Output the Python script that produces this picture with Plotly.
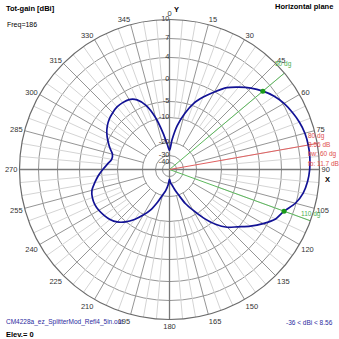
import numpy as np
import plotly.graph_objects as go

# ---------------- data ----------------
angles = list(range(0, 365, 5))
gain_dbi = [-26, -18.8, -13, -8.3, -4.5, -2.3, -0.1, 1.8, 3.2, 4.5,
            5.56, 6.5, 7.2, 7.7, 8.15, 8.45, 8.56, 8.56, 8.45, 8.2,
            7.75, 6.9, 5.56, 4.8, 3.3, 1.6, -0.2, -1.9, -4.2, -7.8,
            -12, -15.8, -19.8, -24.5, -28.3, -30.5, -36, -29, -24.5, -20.5,
            -17, -13, -9.8, -7.2, -4.9, -3.6, -2.8, -2.3, -1.9, -1.7,
            -1.8, -2.2, -3.2, -4.2, -5.4, -6.8, -7.9, -7.8, -6.4, -5.0,
            -4.0, -3.2, -2.6, -2.2, -1.9, -1.9, -2.1, -3.0, -5.0, -9.5,
            -16, -21.5, -26]

# radial scale: labelled dB rings and their share of the outer radius
ring_db = [-40, -30, -20, -10, -5, 0, 4, 7, 10]
ring_frac = [0.0467, 0.0933, 0.18, 0.3467, 0.4533, 0.60, 0.7467, 0.8733, 1.0]
ring_text = ["-40", "-30", "-20", "-10", "-5", "0", "4", "7", "10"]

angle_ticks = list(range(0, 360, 15))
angle_text = [str(a) for a in angle_ticks]

max_gain = 8.56
max_dir = 80
bw_dirs = [50, 110]
bw_labels = ["50 dg", "110 dg"]
info_red = ["80 dg", "8.56 dB", "bw: 60 dg", "fb: 11.7 dB"]

FONT = "Liberation Sans"
W = H = 339
CX, CY, RP = 169.5, 169.5, 150.0


def rmap(db):
    return np.interp(db, [-60] + ring_db, [0.0] + ring_frac)


def px(x):
    return x / W


def py(y):
    return 1 - y / H


fig = go.Figure()


def spokes(step_sel, r0):
    rr, tt = [], []
    for a in range(0, 360, 5):
        if step_sel(a):
            rr += [r0, 1.0, None]
            tt += [a, a, None]
    return rr, tt


r, t = spokes(lambda a: a % 15 != 0, float(rmap(-10)))
fig.add_trace(go.Scatterpolar(r=r, theta=t, mode="lines",
                              line=dict(color="#d4d4d4", width=1), hoverinfo="skip"))
r, t = spokes(lambda a: a % 15 == 0 and a % 90 != 0, float(rmap(-20)))
fig.add_trace(go.Scatterpolar(r=r, theta=t, mode="lines",
                              line=dict(color="#959595", width=1), hoverinfo="skip"))
r, t = spokes(lambda a: a % 90 == 0, 0.0)
fig.add_trace(go.Scatterpolar(r=r, theta=t, mode="lines",
                              line=dict(color="#7a7a7a", width=1.3), hoverinfo="skip"))

# direction lines
for d in bw_dirs:
    fig.add_trace(go.Scatterpolar(r=[0, 1], theta=[d, d], mode="lines",
                                  line=dict(color="#5cb85c", width=1), hoverinfo="skip"))
fig.add_trace(go.Scatterpolar(r=[0, 1], theta=[max_dir, max_dir], mode="lines",
                              line=dict(color="#e06060", width=1), hoverinfo="skip"))

# pattern
fig.add_trace(go.Scatterpolar(r=rmap(np.array(gain_dbi)), theta=angles, mode="lines",
                              line=dict(color="#121295", width=1.7, shape="spline", smoothing=0.8)))

# -3 dB points
fig.add_trace(go.Scatterpolar(r=[float(rmap(max_gain - 3))] * 2, theta=bw_dirs, mode="markers",
                              marker=dict(color="#1a9a1a", size=5)))

# ring labels
fig.add_trace(go.Scatterpolar(r=ring_frac, theta=[0] * len(ring_frac), mode="text",
                              text=ring_text, textposition="middle left",
                              textfont=dict(family=FONT, size=7.5, color="#333333")))

fig.update_layout(
    width=W, height=H, autosize=False,
    margin=dict(l=0, r=0, t=0, b=0),
    paper_bgcolor="white", plot_bgcolor="white",
    showlegend=False,
    font=dict(family=FONT, size=7.5, color="#333333"),
    polar=dict(
        domain=dict(x=[px(CX - RP), px(CX + RP)], y=[py(CY + RP), py(CY - RP)]),
        bgcolor="white",
        angularaxis=dict(rotation=90, direction="clockwise", tickmode="array",
                         tickvals=angle_ticks, ticktext=angle_text, showgrid=False,
                         showline=True, linecolor="#6a6a6a", linewidth=1.2, ticks="",
                         tickfont=dict(family=FONT, size=7.5, color="#333333")),
        radialaxis=dict(range=[0, 1], tickmode="array", tickvals=ring_frac,
                        showticklabels=False, showgrid=True, gridcolor="#959595",
                        gridwidth=1, showline=False, ticks=""),
    ),
)


def ann(text, x, y, xa="left", color="#000000", size=7.5, bold=False):
    fig.add_annotation(text=("<b>%s</b>" % text) if bold else text,
                       x=px(x), y=py(y), xref="paper", yref="paper",
                       xanchor=xa, yanchor="middle", showarrow=False,
                       font=dict(family=FONT, size=size, color=color))


ann("Tot-gain [dBi]", 4, 8, bold=True)
ann("Freq=186", 5, 25, size=7)
ann("Horizontal plane", 335, 7, xa="right", bold=True)
ann("Y", 172, 10, bold=True)
ann("X", 323, 179, bold=True)
ann(bw_labels[0], 273, 64, color="#4caf50", size=6.5)
ann(bw_labels[1], 299, 214, color="#4caf50", size=6.5)
for i, s in enumerate(info_red):
    ann(s, 306, 136 + 9 * i, color="#e05050", size=6.5)
ann("CM4228a_ez_SplitterMod_Refl4_5in.out", 4, 322, color="#2b2ba0", size=6.5)
ann("Elev.= 0", 4, 334, bold=True)
ann("-36 < dBi < 8.56", 335, 322, xa="right", color="#2b2ba0", size=6.5)

fig.write_html("out.html")
